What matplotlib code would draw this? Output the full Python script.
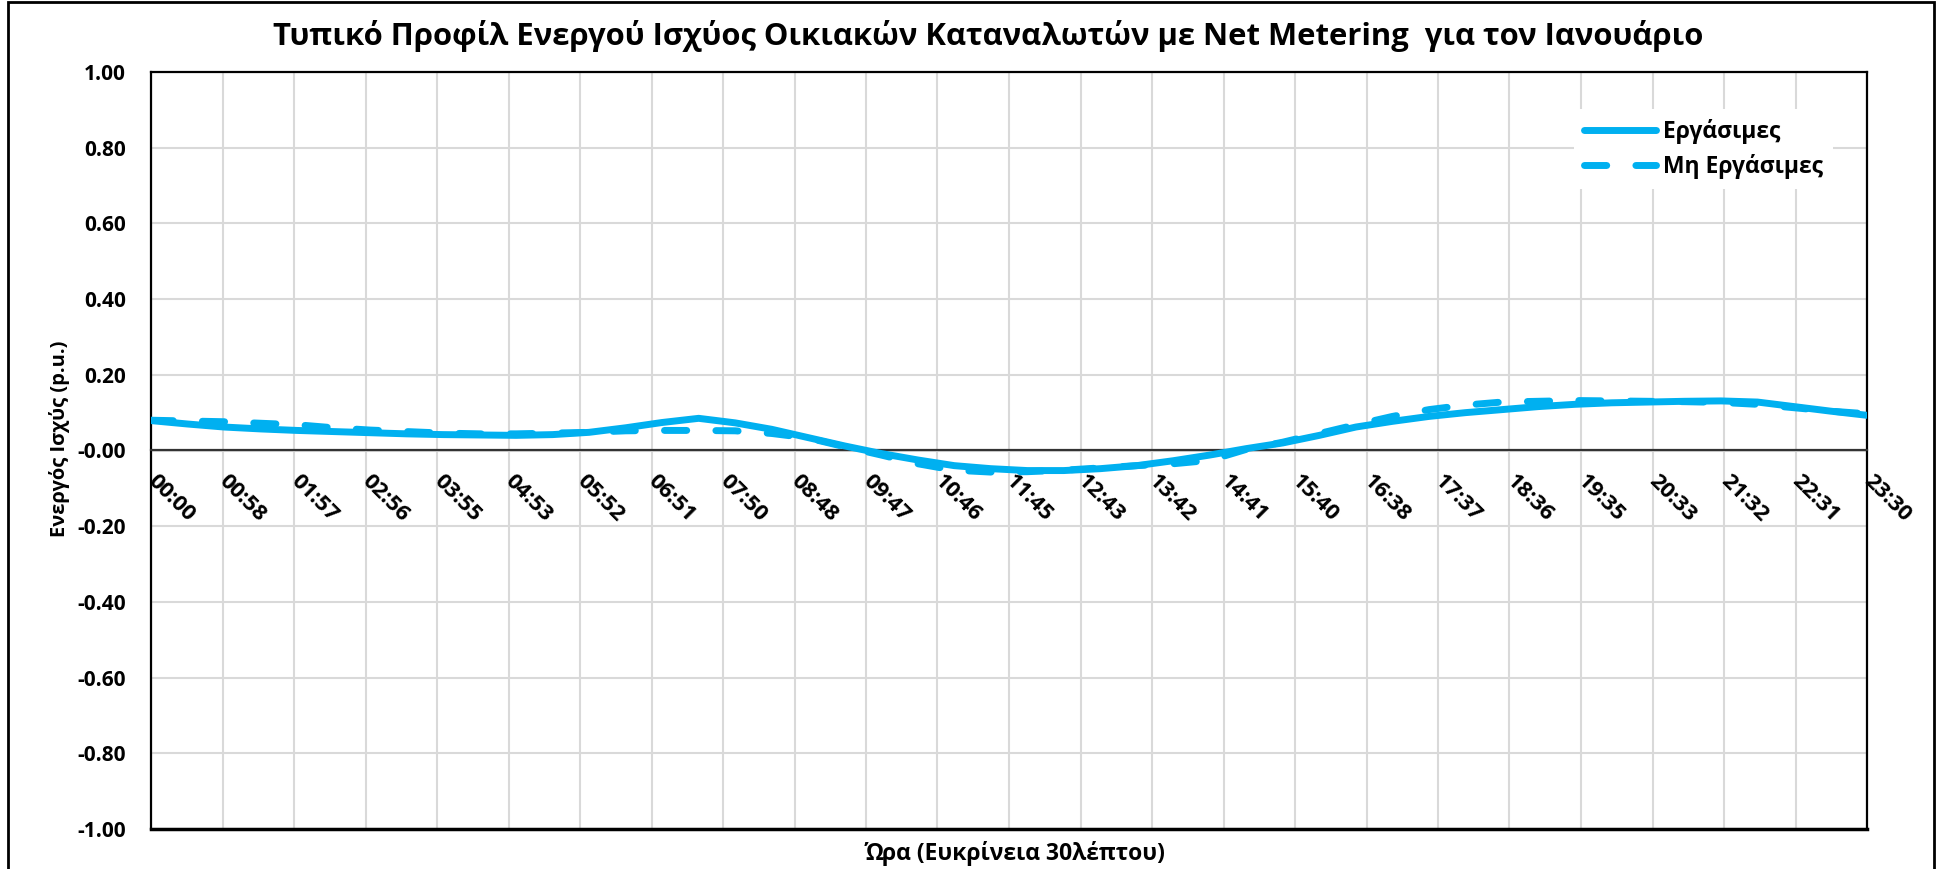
import numpy as np
import matplotlib
matplotlib.use("Agg")
import matplotlib.pyplot as plt
from matplotlib.patches import Rectangle

plt.rcParams['font.family'] = ['Open Sans', 'DejaVu Sans']
plt.rcParams['font.weight'] = 'bold'
plt.rcParams['axes.labelweight'] = 'bold'

# ώρες με βήμα 30 λεπτών (00:00 - 23:30)
hours = np.arange(0, 24, 0.5)

workdays = [0.079, 0.070, 0.062, 0.057, 0.053, 0.050, 0.047, 0.044,
            0.042, 0.041, 0.040, 0.042, 0.048, 0.060, 0.074, 0.085,
            0.073, 0.056, 0.034, 0.012, -0.008, -0.025, -0.040, -0.048,
            -0.053, -0.053, -0.048, -0.040, -0.027, -0.012, 0.005, 0.020,
            0.040, 0.062, 0.077, 0.090, 0.100, 0.108, 0.116, 0.122,
            0.126, 0.128, 0.130, 0.131, 0.128, 0.116, 0.104, 0.093]

non_workdays = [0.080, 0.078, 0.076, 0.072, 0.068, 0.060, 0.054, 0.050,
                0.046, 0.044, 0.044, 0.046, 0.048, 0.052, 0.053, 0.053,
                0.052, 0.045, 0.033, 0.010, -0.012, -0.035, -0.052, -0.057,
                -0.056, -0.052, -0.046, -0.040, -0.035, -0.026, 0.003, 0.022,
                0.045, 0.068, 0.090, 0.108, 0.120, 0.128, 0.130, 0.132,
                0.131, 0.130, 0.129, 0.127, 0.122, 0.113, 0.104, 0.097]

# άξονας χρόνου: 24 διαστήματα από 00:00 έως 23:30
xticks = np.linspace(0, 23.5, 25)
xlabels = []
for t in xticks:
    m = int(t * 60 + 1e-6)
    xlabels.append("%02d:%02d" % (m // 60, m % 60))

yticks = np.arange(-1.0, 1.01, 0.2)
color = '#00B0F0'

fig = plt.figure(figsize=(19.38, 8.69), dpi=100)
ax = fig.add_axes([151 / 1938, 1 - 829 / 869, 1716 / 1938, 757 / 869])

ax.plot(hours, workdays, color=color, lw=5, solid_capstyle='round',
        label='Εργάσιμες', zorder=3)
ax.plot(hours, non_workdays, color=color, lw=5, dashes=(3.2, 4.2),
        dash_capstyle='round', label='Μη Εργάσιμες', zorder=3)

# ο άξονας x περνά από το μηδέν (πριν από τις ετικέτες, γιατί τις μηδενίζει)
for s in ax.spines.values():
    s.set_color('black')
    s.set_linewidth(1.6)
ax.spines['bottom'].set_position(('data', 0))
ax.spines['bottom'].set_color('#333333')
ax.axhline(-1, color='black', lw=2.5, clip_on=False, zorder=4)

ax.set_xlim(0, 23.5)
ax.set_ylim(-1, 1)
ax.set_xticks(xticks)
ax.set_xticklabels(xlabels, rotation=-45, ha='left', va='center',
                   rotation_mode='anchor', fontsize=16, fontweight='bold')
ax.set_yticks(yticks)
ax.set_yticklabels(['%.2f' % v for v in yticks], fontsize=15,
                   fontweight='bold')
ax.tick_params(axis='both', length=0)
ax.tick_params(axis='x', pad=20)
ax.tick_params(axis='y', pad=18)
ax.grid(True, color='#d9d9d9', lw=1.5, zorder=0)
ax.set_axisbelow(True)

ax.set_ylabel('Ενεργός Ισχύς (p.u.)', fontsize=14.5, fontweight='bold')
ax.yaxis.set_label_coords(-0.047, 0.515)

leg = ax.legend(loc='upper left', bbox_to_anchor=(0.829, 0.951),
                borderaxespad=0, frameon=True, fancybox=False,
                handlelength=3.15, handletextpad=0.3, fontsize=16.5,
                labelspacing=0.4, borderpad=0.45)
leg.get_frame().set_facecolor('white')
leg.get_frame().set_edgecolor('none')
leg.get_frame().set_alpha(1)

fig.text(0.51, 1 - 36 / 869, 'Τυπικό Προφίλ Ενεργού Ισχύος Οικιακών Καταναλωτών με Net Metering  για τον Ιανουάριο',
         ha='center', va='center', fontsize=22.3, fontweight='bold')
fig.text(1015 / 1938, 1 - 853 / 869, 'Ώρα (Ευκρίνεια 30λέπτου)',
         ha='center', va='center', fontsize=16.5, fontweight='bold')

fig.patches.append(Rectangle((8 / 1938, -0.01), 1926 / 1938, 1.01 - 2 / 869,
                             transform=fig.transFigure, fill=False,
                             edgecolor='black', lw=2))

fig.savefig('out.png', dpi=100)
